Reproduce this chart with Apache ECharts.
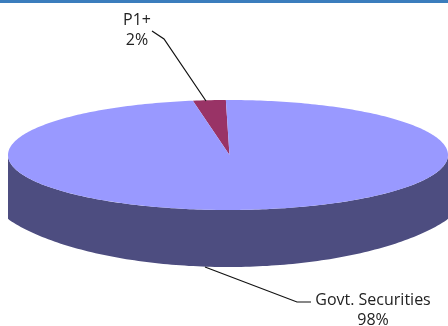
<!DOCTYPE html>
<html><head><meta charset="utf-8">
<style>html,body{margin:0;padding:0;background:#fff}#c{width:448px;height:326px}</style>
<script src="https://cdn.jsdelivr.net/npm/echarts@6/dist/echarts.min.js"></script>
</head><body><div id="c"></div>
<script>
var categories = ['P1+', 'Govt. Securities'];
var values = [2.4, 97.6];
var sliceColors = ['#993366', '#9999ff'];
var sideColors = ['#4d1a33', '#4d4d80'];
var startDeg = -9.2;
var top_ = {cx: 228, cy: 155, rx: 220, ry: 55};
var bottom_ = {cx: 228, cy: 176, rx: 250, ry: 91};
var clipX = [8, 448];

function pt(e, deg) {
  var a = deg * Math.PI / 180;
  var x = e.cx + e.rx * Math.sin(a);
  return [Math.min(clipX[1], Math.max(clipX[0], x)), e.cy - e.ry * Math.cos(a)];
}
function arc(e, a0, a1) {
  var out = [], n = Math.max(2, Math.ceil(Math.abs(a1 - a0)));
  for (var i = 0; i <= n; i++) out.push(pt(e, a0 + (a1 - a0) * i / n));
  return out;
}
var total = values.reduce(function (s, v) { return s + v; }, 0);
var leaders = [
  {pts: [[152, 31], [164, 39], [206, 101]], text: categories[0] + '\n' + Math.round(values[0]) + '%', x: 137, y: 30, align: 'center'},
  {pts: [[205, 267], [297, 302], [311, 302]], text: categories[1] + '\n' + Math.round(values[1]) + '%', x: 373, y: 310, align: 'center'}
];

function renderItem(params) {
  var i = params.dataIndex, before = 0;
  for (var k = 0; k < i; k++) before += values[k];
  var a0 = startDeg + before / total * 360;
  var a1 = a0 + values[i] / total * 360;
  var children = [];
  var s0 = Math.max(a0, 90), s1 = Math.min(a1, 270);
  if (s1 > s0) {
    children.push({type: 'polygon', shape: {points: arc(top_, s0, s1).concat(arc(bottom_, s1, s0))},
      style: {fill: sideColors[i], stroke: null}});
  }
  children.push({type: 'polygon', shape: {points: [[top_.cx + 1.5, top_.cy]].concat(arc(top_, a0, a1))},
    style: {fill: sliceColors[i], stroke: null}});
  var L = leaders[i];
  children.push({type: 'polyline', shape: {points: L.pts}, style: {fill: null, stroke: '#111', lineWidth: 1.2}});
  children.push({type: 'text', style: {text: L.text, x: L.x, y: L.y, align: L.align, verticalAlign: 'middle',
    font: '16px "Open Sans"', lineHeight: 20, fill: '#222'}});
  return {type: 'group', children: children};
}

var chart = echarts.init(document.getElementById('c'), null, {renderer: 'canvas'});
chart.setOption({
  animation: false,
  backgroundColor: '#fff',
  graphic: [{type: 'rect', shape: {x: 0, y: 0, width: 448, height: 3}, style: {fill: '#3b7dbd'}}],
  xAxis: {show: false, min: 0, max: 1},
  yAxis: {show: false, min: 0, max: 1},
  grid: {left: 0, right: 0, top: 0, bottom: 0},
  series: [{type: 'custom', renderItem: renderItem, clip: false, data: values.map(function (v, i) {
    return {name: categories[i], value: [0, v]};
  })}]
});
</script></body></html>
